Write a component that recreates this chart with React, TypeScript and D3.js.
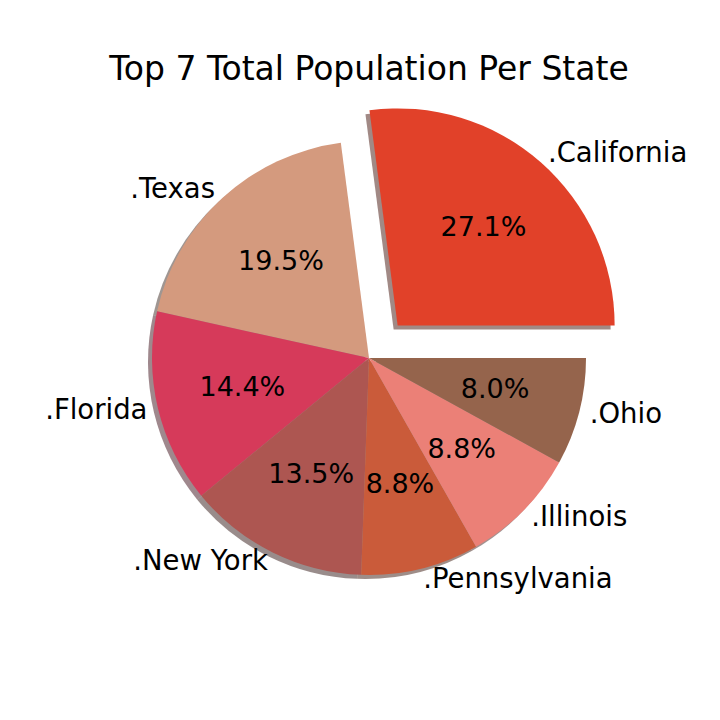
import React, { useRef, useEffect } from 'react';
import * as d3 from 'd3';

const states = ['California', 'Texas', 'Florida', 'New York', 'Pennsylvania', 'Illinois', 'Ohio'];
const shares = [27.1, 19.5, 14.4, 13.5, 8.8, 8.8, 8.0];
const colors = ['#e14129', '#d49a7e', '#d63a5a', '#ad5651', '#ca5b3a', '#eb8077', '#95644c'];
const explode = [0.2, 0, 0, 0, 0, 0, 0];

const App = () => {
  const svgRef = useRef<SVGSVGElement>(null);

  useEffect(() => {
    const svg = d3.select(svgRef.current);
    svg.selectAll('*').remove();
    const width = 720;
    const height = 720;
    const cx = 369;
    const cy = 358;
    const r = 217;
    const font = 'DejaVu Sans, sans-serif';

    svg.attr('width', width).attr('height', height);

    svg.append('text')
      .attr('x', 369).attr('y', 80)
      .attr('text-anchor', 'middle')
      .style('font-family', font).style('font-size', '33px')
      .text('Top 7 Total Population Per State');

    const total = d3.sum(shares);
    // matplotlib-style: start at 0 deg, counter-clockwise
    let acc = 0;
    const wedges = shares.map((v, i) => {
      const t1 = (acc / total) * 2 * Math.PI;
      acc += v;
      const t2 = (acc / total) * 2 * Math.PI;
      const mid = (t1 + t2) / 2;
      const ox = explode[i] * r * Math.cos(mid);
      const oy = -explode[i] * r * Math.sin(mid);
      return { i, v, t1, t2, mid, ox, oy };
    });

    const arc = d3.arc<any>()
      .innerRadius(0).outerRadius(r)
      .startAngle(d => Math.PI / 2 - d.t2)
      .endAngle(d => Math.PI / 2 - d.t1);

    const g = svg.append('g').attr('transform', `translate(${cx},${cy})`);

    // shadows
    g.selectAll('path.shadow')
      .data(wedges)
      .join('path')
      .attr('class', 'shadow')
      .attr('d', arc)
      .attr('transform', d => `translate(${d.ox - 4},${d.oy + 4})`)
      .attr('fill', d => {
        const c = d3.rgb(colors[d.i]);
        return d3.rgb(c.r * 0.3, c.g * 0.3, c.b * 0.3).toString();
      })
      .attr('fill-opacity', 0.5);

    g.selectAll('path.wedge')
      .data(wedges)
      .join('path')
      .attr('class', 'wedge')
      .attr('d', arc)
      .attr('transform', d => `translate(${d.ox},${d.oy})`)
      .attr('fill', d => colors[d.i]);

    // labels
    g.selectAll('text.label')
      .data(wedges)
      .join('text')
      .attr('class', 'label')
      .attr('x', d => d.ox + 1.05 * r * Math.cos(d.mid))
      .attr('y', d => d.oy - 1.05 * r * Math.sin(d.mid))
      .attr('dy', '0.3em')
      .attr('text-anchor', d => Math.cos(d.mid) > 0 ? 'start' : 'end')
      .style('font-family', font).style('font-size', '27.5px')
      .text(d => '.' + states[d.i]);

    g.selectAll('text.pct')
      .data(wedges)
      .join('text')
      .attr('class', 'pct')
      .attr('x', d => d.ox + 0.6 * r * Math.cos(d.mid))
      .attr('y', d => d.oy - 0.6 * r * Math.sin(d.mid))
      .attr('dy', '0.3em')
      .attr('text-anchor', 'middle')
      .style('font-family', font).style('font-size', '27px')
      .text(d => d3.format('.1f')((d.v / total) * 100) + '%');
  }, []);

  return <svg ref={svgRef} style={{ position: 'absolute', left: 0, top: 0 }}></svg>;
};

export default App;
